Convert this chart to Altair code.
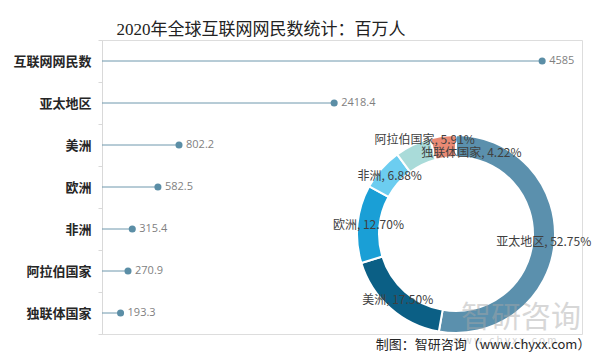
import altair as alt
import pandas as pd

categories = ["互联网网民数", "亚太地区", "美洲", "欧洲", "非洲", "阿拉伯国家", "独联体国家"]
values = [4585, 2418.4, 802.2, 582.5, 315.4, 270.9, 193.3]
donut_colors = ["#5b90ad", "#0b5f85", "#1a9fd6", "#6ccdf0", "#a9dbd9", "#e98a74"]
title_text = "2020年全球互联网网民数统计：百万人"
source_text = "制图：智研咨询（www.chyxx.com）"
watermark_big = "智研咨询"
watermark_small = "w w w . c h y x x . c o m"

lol = pd.DataFrame({"cat": categories, "value": values})
total = values[0]
regions = categories[1:]
reg_vals = values[1:]
donut = pd.DataFrame({"cat": regions, "value": reg_vals, "order": list(range(len(regions)))})
donut["label"] = [f"{c}, {v / total:.2%}" for c, v in zip(regions, reg_vals)]

CX, CY = 354, 194  # donut centre inside the plot area

y_enc = alt.Y(
    "cat:N",
    sort=categories,
    scale=alt.Scale(type="band", paddingInner=0, paddingOuter=0),
    axis=alt.Axis(
        title=None,
        domainColor="#d9d9d9",
        tickColor="#d9d9d9",
        tickSize=4,
        tickBand="extent",
        labelFontWeight="bold",
        labelFontSize=13,
        labelColor="#262626",
        labelPadding=7,
        labelFont="Noto Sans CJK SC",
    ),
)
x_enc = alt.X("value:Q", scale=alt.Scale(domain=[0, 5000]), axis=None)

base = alt.Chart(lol)
rules = base.mark_rule(color="#6f98ad", strokeWidth=1).encode(y=y_enc, x=x_enc, x2=alt.value(0))
dots = base.mark_circle(size=50, color="#5b8ea6", opacity=1).encode(y=y_enc, x=x_enc)
vals = base.mark_text(align="left", dx=7, fontSize=11, color="#7f7f7f", font="Open Sans").encode(
    y=y_enc, x=x_enc, text=alt.Text("value:Q", format="")
)

dbase = alt.Chart(donut).encode(
    theta=alt.Theta("value:Q", stack=True),
    order=alt.Order("order:Q"),
    x=alt.value(CX),
    y=alt.value(CY),
)
arcs = dbase.mark_arc(radius=99, radius2=77, stroke="white", strokeWidth=2).encode(
    color=alt.Color("cat:N", scale=alt.Scale(domain=regions, range=donut_colors), legend=None)
)

special = ["阿拉伯国家", "独联体国家"]
lbl_main = dbase.mark_text(radius=88, fontSize=12, color="#404040").encode(
    text="label:N",
    opacity=alt.condition(alt.FieldOneOfPredicate(field="cat", oneOf=special), alt.value(0), alt.value(1)),
)
lbl_a = dbase.mark_text(radius=88, fontSize=12, color="#404040", dx=7, dy=-15).encode(
    text="label:N",
    opacity=alt.condition(alt.FieldEqualPredicate(field="cat", equal="阿拉伯国家"), alt.value(1), alt.value(0)),
)
lbl_b = dbase.mark_text(radius=88, fontSize=12, color="#404040", dx=27, dy=6).encode(
    text="label:N",
    opacity=alt.condition(alt.FieldEqualPredicate(field="cat", equal="独联体国家"), alt.value(1), alt.value(0)),
)

wm_big = alt.Chart(pd.DataFrame({"t": [watermark_big]})).mark_text(
    fontSize=30, color="#a8a8a8", opacity=0.45, font="Noto Sans CJK SC"
).encode(text="t:N", x=alt.value(419), y=alt.value(278))
wm_small = alt.Chart(pd.DataFrame({"t": [watermark_small]})).mark_text(
    fontSize=10, color="#b5b5b5", opacity=0.6
).encode(text="t:N", x=alt.value(403), y=alt.value(301))
footer = alt.Chart(pd.DataFrame({"t": [source_text]})).mark_text(
    fontSize=13, color="#262626", font="Noto Sans CJK SC", baseline="bottom"
).encode(text="t:N", x=alt.value(381), y=alt.value(312))

chart = alt.layer(
    rules, dots, vals, arcs, wm_big, wm_small, lbl_main, lbl_a, lbl_b, footer
).properties(
    width=480,
    height=294,
    autosize=alt.AutoSizeParams(type="none"),
    padding={"left": 94, "top": 32, "right": 10, "bottom": 18},
    title=alt.Title(
        title_text,
        fontSize=17,
        font="Liberation Serif, Noto Sans CJK SC",
        fontWeight="normal",
        color="#222222",
        anchor="middle",
        dx=-81,
        dy=6,
        offset=1,
    ),
).configure_view(stroke=None).configure(font="Noto Sans CJK SC")

chart.save("out.html", embed_options={"renderer": "svg", "actions": False})
